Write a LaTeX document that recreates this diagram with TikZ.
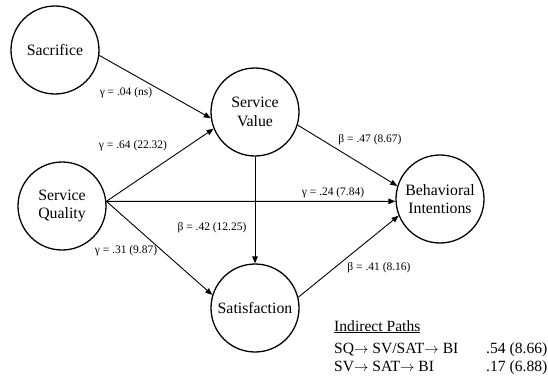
\documentclass[tikz,border=0pt]{standalone}
\usepackage{fontspec}
\setmainfont{Liberation Serif}
\usepackage{tikz}
\usetikzlibrary{
  arrows.meta,
  positioning
}
\tikzset{
  construct/.style={
    circle,
    draw,
    line width=1.3pt,
    minimum size=88pt,
    inner sep=0pt,
    align=center,
    font=\fontsize{15.8}{18.5}\selectfont
  },
  pathlabel/.style={font=\fontsize{11.5}{13}\selectfont,inner sep=1pt},
  patharrow/.style={-{Triangle[length=7pt,width=5.5pt]},line width=0.9pt},
  indirecttext/.style={font=\fontsize{15.6}{18}\selectfont,anchor=base west,inner sep=0pt},
}

\begin{document}
\begin{tikzpicture}[x=1pt,y=1pt]
  \useasboundingbox (0,0) rectangle (548,376);
  % Constructs
  \node[construct] (sac) at (55,326) {Sacrifice};
  \node[construct] (sv) at (255,264) {Service\\Value};
  \node[construct] (sq) at (62,170) {Service\\Quality};
  \node[construct] (sat) at (255,68) {Satisfaction};
  \node[construct] (bi) at (440,177) {Behavioral\\Intentions};
  \coordinate (sqout) at (sq.6);

  % Structural paths
  \draw[patharrow] (sac.-7) -- (sv.188);
  \draw[patharrow] (sqout) -- (sv.202);
  \draw[patharrow] (sqout) -- (bi.183);
  \draw[patharrow] (sqout) -- (sat.163);
  \draw[patharrow] (sv.south) -- (sat.north);
  \draw[patharrow] (sv.-17) -- (bi.163);
  \draw[patharrow] (sat.14) -- (bi.202);

  % Path coefficients
  \node[pathlabel] (lsac) at (126,283) {γ = .04 (ns)};
  \node[pathlabel] (lsqsv) at (133,230) {γ = .64 (22.32)};
  \node[pathlabel] (lsvbi) at (370,236) {β = .47 (8.67)};
  \node[pathlabel] (lsqbi) at (333,183) {γ = .24 (7.84)};
  \node[pathlabel] (lsvsat) at (212,148) {β = .42 (12.25)};
  \node[pathlabel] (lsqsat) at (126,125) {γ = .31 (9.87)};
  \node[pathlabel] (lsatbi) at (379,108) {β = .41 (8.16)};

  % Indirect paths
  \node[indirecttext] (ihead) at (334,45) {\underline{Indirect Paths}};
  \node[indirecttext] (irow1) at (334,23) {SQ$\rightarrow$ SV/SAT$\rightarrow$ BI};
  \node[indirecttext] (ival1) at (486,23) {.54 (8.66)};
  \node[indirecttext] (irow2) at (334,5) {SV$\rightarrow$ SAT$\rightarrow$ BI};
  \node[indirecttext] (ival2) at (486,5) {.17 (6.88)};
\end{tikzpicture}
\end{document}
